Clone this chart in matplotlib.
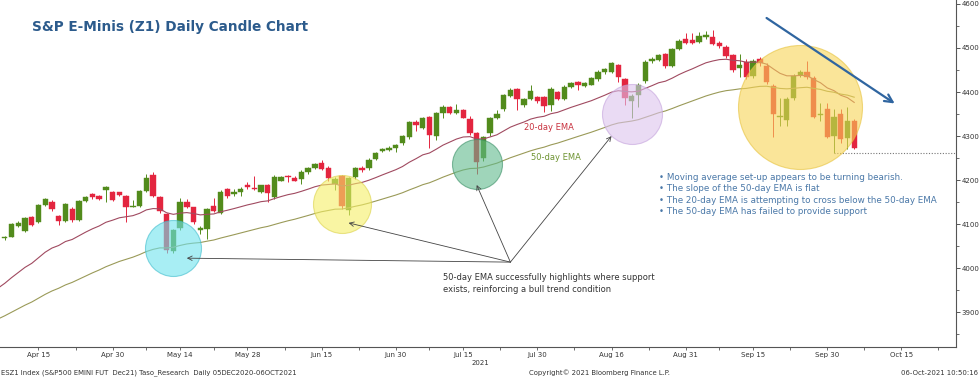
import numpy as np
import pandas as pd
import matplotlib
matplotlib.use("Agg")
import matplotlib.pyplot as plt

# ---------------- data ----------------
start_date = "2021-04-08"
end_date = "2021-10-06"
holidays = ["2021-05-31", "2021-07-05", "2021-09-06"]

opens = [4068, 4072, 4097, 4085, 4116, 4106, 4144, 4151, 4119, 4107,
         4135, 4110, 4153, 4169, 4164, 4178, 4172, 4172, 4164, 4140,
         4142, 4176, 4212, 4161, 4123, 4040, 4091, 4151, 4138, 4088,
         4089, 4142, 4126, 4179, 4169, 4172, 4189, 4182, 4174, 4189,
         4161, 4199, 4210, 4204, 4203, 4218, 4228, 4238, 4228, 4191,
         4210, 4132, 4208, 4228, 4227, 4248, 4267, 4268, 4274, 4284,
         4297, 4333, 4319, 4343, 4301, 4352, 4366, 4352, 4359, 4338,
         4306, 4250, 4308, 4342, 4361, 4391, 4406, 4371, 4384, 4388,
         4388, 4371, 4401, 4384, 4412, 4422, 4414, 4417, 4429, 4445,
         4446, 4461, 4429, 4380, 4393, 4425, 4470, 4473, 4486, 4460,
         4498, 4520, 4519, 4514, 4525, 4524, 4512, 4503, 4484, 4454,
         4469, 4436, 4476, 4460, 4414, 4343, 4337, 4386, 4439, 4446,
         4431, 4348, 4361, 4300, 4349, 4295, 4335]
highs = [4073, 4103, 4107, 4116, 4118, 4147, 4160, 4154, 4122, 4148,
         4138, 4156, 4164, 4171, 4167, 4186, 4175, 4174, 4166, 4156,
         4178, 4214, 4218, 4163, 4125, 4090, 4159, 4157, 4140, 4095,
         4137, 4160, 4178, 4183, 4180, 4184, 4195, 4210, 4190, 4192,
         4211, 4209, 4212, 4210, 4222, 4230, 4240, 4245, 4231, 4207,
         4212, 4207, 4230, 4233, 4250, 4265, 4273, 4277, 4283, 4303,
         4335, 4336, 4343, 4345, 4354, 4370, 4368, 4373, 4362, 4345,
         4309, 4300, 4343, 4360, 4396, 4410, 4408, 4387, 4415, 4392,
         4390, 4412, 4403, 4415, 4423, 4425, 4422, 4434, 4449, 4455,
         4468, 4464, 4432, 4395, 4420, 4472, 4480, 4487, 4488, 4500,
         4520, 4534, 4533, 4536, 4539, 4540, 4515, 4506, 4487, 4486,
         4474, 4475, 4479, 4466, 4418, 4386, 4388, 4440, 4449, 4471,
         4436, 4375, 4376, 4362, 4362, 4365, 4338]
lows = [4064, 4070, 4094, 4083, 4095, 4103, 4141, 4131, 4098, 4105,
        4106, 4107, 4150, 4158, 4154, 4151, 4152, 4163, 4106, 4138,
        4140, 4174, 4162, 4125, 4034, 4034, 4088, 4136, 4100, 4078,
        4066, 4128, 4124, 4160, 4165, 4165, 4180, 4178, 4170, 4151,
        4158, 4197, 4195, 4197, 4192, 4215, 4225, 4222, 4198, 4178,
        4135, 4122, 4203, 4219, 4224, 4245, 4264, 4266, 4265, 4280,
        4294, 4312, 4316, 4272, 4290, 4340, 4349, 4349, 4340, 4303,
        4215, 4243, 4300, 4338, 4357, 4388, 4360, 4367, 4381, 4376,
        4355, 4357, 4381, 4381, 4410, 4405, 4411, 4415, 4426, 4442,
        4443, 4422, 4370, 4340, 4365, 4420, 4465, 4470, 4455, 4456,
        4495, 4509, 4508, 4511, 4521, 4506, 4500, 4478, 4446, 4435,
        4430, 4431, 4460, 4418, 4299, 4323, 4323, 4382, 4434, 4430,
        4340, 4335, 4296, 4262, 4285, 4270, 4270]
closes = [4070, 4100, 4102, 4113, 4098, 4144, 4157, 4135, 4107, 4146,
          4110, 4153, 4161, 4161, 4157, 4184, 4155, 4166, 4140, 4142,
          4176, 4206, 4164, 4129, 4042, 4088, 4151, 4138, 4104, 4092,
          4135, 4131, 4174, 4165, 4172, 4179, 4184, 4180, 4188, 4170,
          4208, 4207, 4207, 4199, 4218, 4227, 4236, 4225, 4204, 4203,
          4142, 4204, 4227, 4222, 4246, 4261, 4271, 4274, 4280, 4300,
          4333, 4325, 4340, 4302, 4352, 4367, 4352, 4359, 4342, 4306,
          4242, 4297, 4340, 4349, 4393, 4404, 4384, 4384, 4402, 4380,
          4368, 4406, 4384, 4412, 4420, 4417, 4420, 4431, 4446, 4452,
          4465, 4435, 4386, 4391, 4417, 4467, 4474, 4484, 4458, 4497,
          4516, 4512, 4512, 4526, 4529, 4509, 4504, 4482, 4450, 4461,
          4435, 4471, 4465, 4422, 4350, 4346, 4384, 4436, 4446, 4435,
          4344, 4350, 4299, 4344, 4293, 4335, 4274]

ema20_prior = 3955   # 20-day EMA value just before the first bar
ema50_prior = 3885   # 50-day EMA value just before the first bar

tick_dates = ["2021-04-15", "2021-04-30", "2021-05-14", "2021-05-28", "2021-06-15",
              "2021-06-30", "2021-07-15", "2021-07-30", "2021-08-16", "2021-08-31",
              "2021-09-15", "2021-09-30", "2021-10-15"]
tick_labels = ["Apr 15", "Apr 30", "May 14", "May 28", "Jun 15", "Jun 30", "Jul 15",
               "Jul 30", "Aug 16", "Aug 31", "Sep 15", "Sep 30", "Oct 15"]

# highlighted support zones (date, price) and the bearish zone
circle_dates = ["2021-05-13", "2021-06-18", "2021-07-19", "2021-08-19", "2021-09-24"]
circle_prices = [4045, 4147, 4237, 4350, 4365]
arrow_origin = ("2021-07-26", 4014)
arrow_targets = [("2021-05-17", 4023), ("2021-06-21", 4103), ("2021-07-19", 4189),
                 ("2021-08-16", 4300)]
trend_arrow = (("2021-09-17", 4568), ("2021-10-14", 4374))

# ---------------- build trading-day axis ----------------
all_days = pd.bdate_range(start_date, "2021-11-30")
all_days = all_days[~all_days.isin(pd.to_datetime(holidays))]
pos = {d.strftime("%Y-%m-%d"): i for i, d in enumerate(all_days)}
n = len(closes)
x = np.arange(n)

def ema(vals, span, prior):
    a = 2.0 / (span + 1)
    out, e = [prior], prior
    for v in vals:
        e = e + a * (v - e)
        out.append(e)
    return np.array(out)

ema20 = ema(closes, 20, ema20_prior)
ema50 = ema(closes, 50, ema50_prior)
xe = np.arange(-1, n)

# ---------------- figure ----------------
W, H, DPI = 980, 378, 100
fig = plt.figure(figsize=(W / DPI, H / DPI), dpi=DPI)
plt.rcParams['font.family'] = ['DejaVu Sans']
ax = fig.add_axes([0, 1 - 347 / H, 956 / W, 347 / H])

GREEN = "#528b1c"
RED = "#e3253f"
o = np.array(opens, float); c = np.array(closes, float)
h = np.array(highs, float); l = np.array(lows, float)
up = c >= o
cols = np.where(up, GREEN, RED)
ax.vlines(x, l, h, colors=cols, linewidth=0.7, zorder=2)
body_h = np.maximum(np.abs(c - o), 1.2)
ax.bar(x, body_h, bottom=np.minimum(o, c), width=0.8, color=cols,
       edgecolor=cols, linewidth=0.3, zorder=2.5)

ax.plot(xe, ema20, color="#a04a60", lw=0.8, zorder=3)
ax.plot(xe, ema50, color="#9a9a58", lw=0.8, zorder=3)

# support level dotted line
ax.hlines(lows[123], 123, 150, colors="#777777", linestyles=(0, (1, 1.5)), lw=0.8, zorder=3)

# circles
radii_px = [28, 29, 25, 30, 62]
faces = ["#6fe3ee", "#f5ef66", "#5fba8c", "#dcc3ee", "#f8d455"]
edges = ["#3fbccc", "#dcd24a", "#3a8f66", "#c4a2dc", "#e6c23c"]
for d, p, r, fc, ec in zip(circle_dates, circle_prices, radii_px, faces, edges):
    s = (2 * r * 72 / DPI) ** 2
    ax.scatter([pos[d]], [p], s=s, facecolor=fc, edgecolor=ec, linewidth=0.8,
               alpha=0.6, zorder=4)

# arrows
ox, oy = pos[arrow_origin[0]], arrow_origin[1]
for d, p in arrow_targets:
    ax.annotate("", xy=(pos[d], p), xytext=(ox, oy),
                arrowprops=dict(arrowstyle="->", color="#444444", lw=0.6,
                                shrinkA=0, shrinkB=0, mutation_scale=8), zorder=5)
(t0d, t0p), (t1d, t1p) = trend_arrow
ax.annotate("", xy=(pos[t1d], t1p), xytext=(pos[t0d], t0p),
            arrowprops=dict(arrowstyle="->", color="#2f65a0", lw=1.6,
                            shrinkA=0, shrinkB=0, mutation_scale=14), zorder=5)

# axes styling
ax.set_xlim(-0.71, 141.1)
ax.set_ylim(3821.4, 4608.8)
for s in ["left", "top"]:
    ax.spines[s].set_visible(False)
for s in ["right", "bottom"]:
    ax.spines[s].set_color("#555555")
    ax.spines[s].set_linewidth(0.8)
ax.yaxis.tick_right()
ax.set_yticks(np.arange(3900, 4601, 100))
ax.set_yticks(np.arange(3850, 4601, 50), minor=True)
ax.tick_params(axis="y", which="major", length=3, width=0.7, colors="#555555",
               labelsize=5, labelcolor="#333333", pad=1)
ax.tick_params(axis="y", which="minor", length=2, width=0.6, colors="#555555")
tpos = [pos[d] for d in tick_dates]
ax.set_xticks(tpos)
ax.set_xticklabels(tick_labels)
ax.set_xticks([(a + b) / 2 for a, b in zip(tpos[:-1], tpos[1:])] + [tpos[-1] + 5.5], minor=True)
ax.tick_params(axis="x", which="major", length=2, width=0.6, colors="#555555",
               labelsize=5, labelcolor="#333333", pad=1.5)
ax.tick_params(axis="x", which="minor", length=2, width=0.6, colors="#555555")

def ftext(px, py, s, **kw):
    fig.text(px / W, 1 - py / H, s, **kw)

ftext(32, 27, "S&P E-Minis (Z1) Daily Candle Chart", fontsize=9.8, fontweight="bold",
      color="#2c5b8c", va="center", ha="left")
ftext(524, 128, "20-day EMA", fontsize=6, color="#c8323f", va="center")
ftext(531, 157, "50-day EMA", fontsize=6, color="#6f9433", va="center")
bullets = ["\u2022 Moving average set-up appears to be turning bearish.",
           "\u2022 The slope of the 50-day EMA is flat",
           "\u2022 The 20-day EMA is attempting to cross below the 50-day EMA",
           "\u2022 The 50-day EMA has failed to provide support"]
for k, b in enumerate(bullets):
    ftext(659, 177 + 11.6 * k, b, fontsize=6.35, color="#4a78a8", va="center")
ftext(443, 278, "50-day EMA successfully highlights where support", fontsize=6.0,
      color="#333333", va="center")
ftext(443, 289.5, "exists, reinforcing a bull trend condition", fontsize=6.0,
      color="#333333", va="center")
ftext(480, 363, "2021", fontsize=5, color="#333333", va="center", ha="center")
ftext(1, 373, "ESZ1 Index (S&P500 EMINI FUT  Dec21) Taso_Research  Daily 05DEC2020-06OCT2021",
      fontsize=4.95, color="#333333", va="center")
ftext(529, 373, "Copyright\u00a9 2021 Bloomberg Finance L.P.", fontsize=4.95,
      color="#333333", va="center")
ftext(978, 373, "06-Oct-2021 10:50:16", fontsize=4.95, color="#333333", va="center",
      ha="right")

fig.savefig("out.png", dpi=DPI, facecolor="white")
